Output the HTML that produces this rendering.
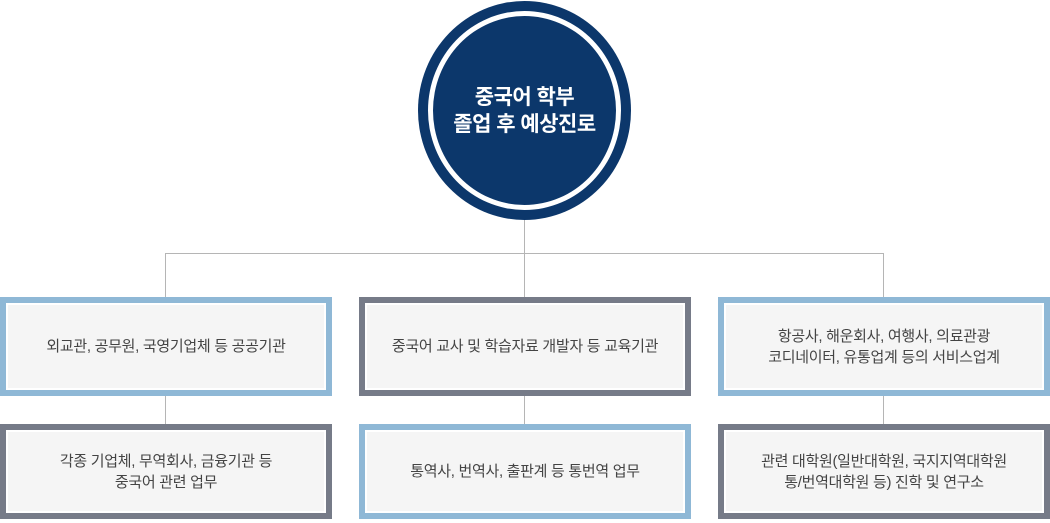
<!DOCTYPE html>
<html><head><meta charset="utf-8"><style>
body{margin:0;width:1050px;height:523px;background:#fff;position:relative;overflow:hidden;font-family:"Liberation Sans","Noto Sans CJK KR",sans-serif}
.ln{position:absolute;background:#b5b5b5}
.circ{position:absolute;left:418px;top:1px;width:213px;height:219px;border-radius:50%;background:#0c376b}
.circ .ring{position:absolute;left:10px;top:10px;right:10px;bottom:10px;border:5px solid #fff;border-radius:50%;background:#0c376b;display:flex;align-items:center;justify-content:center;text-align:center;color:#fff;font-size:21px;font-weight:bold;line-height:27px;letter-spacing:-0.5px}
.box{position:absolute;box-sizing:border-box;border:6px solid;display:flex;align-items:center;justify-content:center;text-align:center;color:#444;font-size:15px;line-height:21px;background:#f5f5f5;box-shadow:inset 0 0 0 2px #fff;letter-spacing:-0.3px}
.b{border-color:#8fb8d6}.g{border-color:#767b88}
</style></head><body>
<div class="ln" style="left:524px;top:215px;width:1px;height:38px"></div>
<div class="ln" style="left:165px;top:253px;width:719px;height:1px"></div>
<div class="ln" style="left:165px;top:253px;width:1px;height:45px"></div>
<div class="ln" style="left:524px;top:253px;width:1px;height:45px"></div>
<div class="ln" style="left:883px;top:253px;width:1px;height:45px"></div>
<div class="ln" style="left:165px;top:395px;width:1px;height:30px"></div>
<div class="ln" style="left:524px;top:395px;width:1px;height:30px"></div>
<div class="ln" style="left:883px;top:395px;width:1px;height:30px"></div>
<div class="circ"><div class="ring">중국어 학부<br>졸업 후 예상진로</div></div>
<div class="box b" style="left:0;top:297px;width:332px;height:99px">외교관, 공무원, 국영기업체 등 공공기관</div>
<div class="box g" style="left:359px;top:297px;width:332px;height:99px">중국어 교사 및 학습자료 개발자 등 교육기관</div>
<div class="box b" style="left:718px;top:297px;width:332px;height:99px">항공사, 해운회사, 여행사, 의료관광<br>코디네이터, 유통업계 등의 서비스업계</div>
<div class="box g" style="left:0;top:424px;width:332px;height:95px">각종 기업체, 무역회사, 금융기관 등<br>중국어 관련 업무</div>
<div class="box b" style="left:359px;top:424px;width:332px;height:95px">통역사, 번역사, 출판계 등 통번역 업무</div>
<div class="box g" style="left:718px;top:424px;width:332px;height:95px">관련 대학원(일반대학원, 국지지역대학원<br>통/번역대학원 등) 진학 및 연구소</div>
</body></html>
